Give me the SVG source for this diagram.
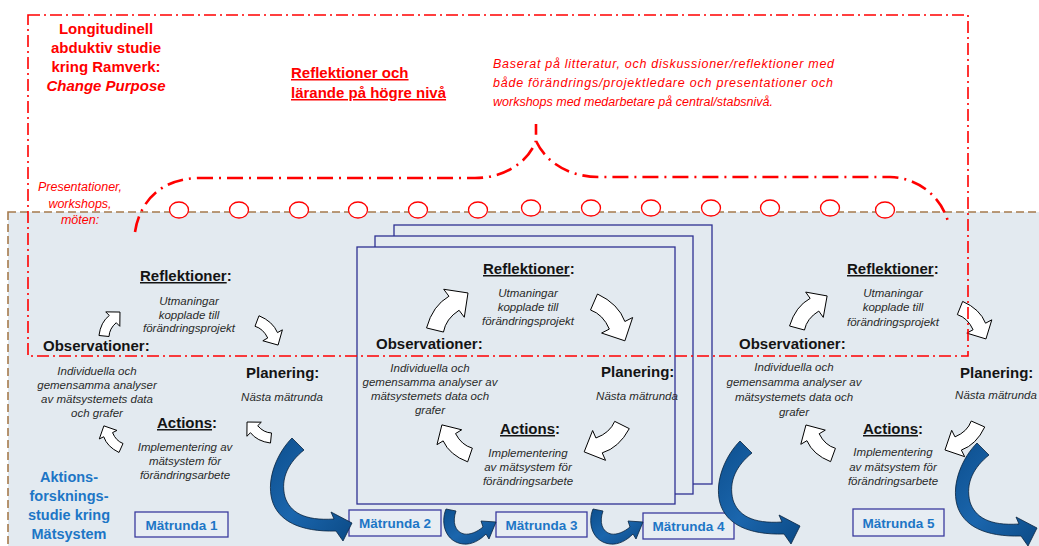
<svg xmlns="http://www.w3.org/2000/svg" xmlns:xlink="http://www.w3.org/1999/xlink" width="1039" height="546" viewBox="0 0 1039 546">
  <style>
    .h { font-family: "Liberation Sans", Arial, sans-serif; font-weight: bold; font-size: 15px; fill: #141414; }
    .u { text-decoration: underline; }
    .i { font-family: "Liberation Sans", Arial, sans-serif; font-style: italic; font-size: 11.5px; fill: #2a2a2a; text-anchor: middle; }
    .rb { font-family: "Liberation Sans", Arial, sans-serif; font-weight: bold; font-size: 15px; fill: #ff0000; }
    .ri { font-family: "Liberation Sans", Arial, sans-serif; font-style: italic; font-size: 12.5px; fill: #ff0000; }
    .bl { font-family: "Liberation Sans", Arial, sans-serif; font-weight: bold; fill: #1d76c6; text-anchor: middle; }
    .round { fill: #e7edf3; stroke: #3b3b9e; stroke-width: 1.3; }
    .card { fill: #e3eaf0; stroke: #2e3192; stroke-width: 1.3; }
    .wa { fill: #ffffff; stroke: #000000; stroke-width: 1; }
    .ba { fill: url(#blueGrad); stroke: #0a2440; stroke-width: 0.8; }
    .dot { fill: #ffffff; stroke: #ff0000; stroke-width: 1.3; }
  </style>
  <defs>
    <linearGradient id="blueGrad" x1="0" y1="0" x2="1" y2="1">
      <stop offset="0" stop-color="#0d4f8e"/>
      <stop offset="0.5" stop-color="#1b66ad"/>
      <stop offset="1" stop-color="#0b4a86"/>
    </linearGradient>
    <!-- white curved block arrow: tail at origin, tip at (40,0) -->
    <path id="wArrow" class="wa" vector-effect="non-scaling-stroke"
          d="M-3.3,-6.2 Q13.5,-14.5 27.8,-9.7 L29.2,-16.6 L40,0 L23.4,10.8 L24.8,3.9 Q12.5,0.5 3.3,6.2 Z"/>
    <!-- large blue curved arrow between rounds -->
    <path id="bArrow" class="ba"
          d="M292,438 C278,452 266,478 272,500 C278,521 300,532 336,531 L343,541 L352,523 L331,512 L334,519 C304,521 290,512 285,497 C280,478 289,462 304,450 Z"/>
    <!-- small blue curved arrow between stacked rounds -->
    <path id="sArrow" class="ba"
          d="M446,509 C440,524 446,542 463,544 C472,545 480,540 486,534 L489,539 L496,522 L481,521 L483,527 C477,532 470,535 464,534 C455,532 452,522 456,511 Z"/>
  </defs>

  <!-- page -->
  <rect x="0" y="0" width="1039" height="546" fill="#ffffff"/>

  <!-- action research area -->
  <g id="action-area">
    <rect x="8" y="212" width="1045" height="345" fill="#e3eaf0" stroke="#a57a4c" stroke-width="1.6" stroke-dasharray="8 4"/>
  </g>

  <!-- stacked cards for rounds 2-4 -->
  <g id="round-stack">
    <rect class="card" x="394" y="225" width="318" height="259"/>
    <rect class="card" x="375" y="236" width="318" height="258"/>
    <rect class="card" x="357" y="247" width="318" height="257"/>
  </g>

  <!-- cycle 1 -->
  <g id="cycle-1">
    <text class="h" x="140" y="281"><tspan class="u">Reflektioner</tspan>:</text>
    <text class="i" y="305"><tspan x="189">Utmaningar</tspan><tspan x="189" y="318.5">kopplade till</tspan><tspan x="189" y="332">förändringsprojekt</tspan></text>
    <text class="h" x="43" y="351">Observationer:</text>
    <text class="i" y="375"><tspan x="97">Individuella och</tspan><tspan x="97" y="389">gemensamma analyser</tspan><tspan x="97" y="403">av mätsystemets data</tspan><tspan x="97" y="417">och grafer</tspan></text>
    <text class="h" x="246" y="378">Planering:</text>
    <text class="i" x="282" y="401">Nästa mätrunda</text>
    <text class="h" x="157" y="428"><tspan class="u">Actions</tspan>:</text>
    <text class="i" y="451"><tspan x="185">Implementering av</tspan><tspan x="185" y="465">mätsystem för</tspan><tspan x="185" y="479">förändringsarbete</tspan></text>
    <use xlink:href="#wArrow" transform="translate(104,336) rotate(-56.3) scale(0.72)"/>
    <use xlink:href="#wArrow" transform="translate(257,321) rotate(48.8) scale(0.8)"/>
    <use xlink:href="#wArrow" transform="translate(271,438) rotate(-146.3) scale(0.72)"/>
    <use xlink:href="#wArrow" transform="translate(121,448) rotate(-127.7) scale(0.7)"/>
  </g>

  <!-- cycle 2-4 -->
  <g id="cycle-2">
    <text class="h" x="483" y="274"><tspan class="u">Reflektioner</tspan>:</text>
    <text class="i" y="297"><tspan x="528">Utmaningar</tspan><tspan x="528" y="311">kopplade till</tspan><tspan x="528" y="325">förändringsprojekt</tspan></text>
    <text class="h" x="376" y="349">Observationer:</text>
    <text class="i" y="372"><tspan x="430">Individuella och</tspan><tspan x="430" y="386">gemensamma analyser av</tspan><tspan x="430" y="400">mätsystemets data och</tspan><tspan x="430" y="414">grafer</tspan></text>
    <text class="h" x="601" y="377">Planering:</text>
    <text class="i" x="637" y="400">Nästa mätrunda</text>
    <text class="h" x="500" y="434"><tspan class="u">Actions</tspan>:</text>
    <text class="i" y="457"><tspan x="528">Implementering</tspan><tspan x="528" y="471">av mätsystem för</tspan><tspan x="528" y="485">förändringsarbete</tspan></text>
    <use xlink:href="#wArrow" transform="translate(435,330) rotate(-48.3) scale(1.24)"/>
    <use xlink:href="#wArrow" transform="translate(594,302) rotate(51.5) scale(1.24)"/>
    <use xlink:href="#wArrow" transform="translate(622,425) rotate(144.6) scale(1.16)"/>
    <use xlink:href="#wArrow" transform="translate(470,455) rotate(-133) scale(1.03)"/>
  </g>

  <!-- cycle 5 -->
  <g id="cycle-5">
    <text class="h" x="847" y="274"><tspan class="u">Reflektioner</tspan>:</text>
    <text class="i" y="297"><tspan x="893">Utmaningar</tspan><tspan x="893" y="311">kopplade till</tspan><tspan x="893" y="326">förändringsprojekt</tspan></text>
    <text class="h" x="739" y="349">Observationer:</text>
    <text class="i" y="371"><tspan x="794">Individuella och</tspan><tspan x="794" y="386">gemensamma analyser av</tspan><tspan x="794" y="401">mätsystemets data och</tspan><tspan x="794" y="416">grafer</tspan></text>
    <text class="h" x="960" y="378">Planering:</text>
    <text class="i" x="996" y="399">Nästa mätrunda</text>
    <text class="h" x="863" y="434"><tspan class="u">Actions</tspan>:</text>
    <text class="i" y="456"><tspan x="893">Implementering</tspan><tspan x="893" y="471">av mätsystem för</tspan><tspan x="893" y="485">förändringsarbete</tspan></text>
    <use xlink:href="#wArrow" transform="translate(797,328) rotate(-46.8) scale(1.1)"/>
    <use xlink:href="#wArrow" transform="translate(960,308) rotate(50) scale(1.01)"/>
    <use xlink:href="#wArrow" transform="translate(978,424) rotate(141.8) scale(1.05)"/>
    <use xlink:href="#wArrow" transform="translate(833,455) rotate(-132) scale(1.01)"/>
  </g>

  <!-- side title of the action research part -->
  <g id="action-title">
    <text class="bl" font-size="14.5"><tspan x="69" y="482">Aktions-</tspan><tspan x="69" y="501">forsknings-</tspan><tspan x="69" y="520">studie kring</tspan><tspan x="69" y="539">Mätsystem</tspan></text>
  </g>

  <!-- measurement rounds -->
  <g id="round-1"><rect class="round" x="135" y="512" width="93" height="25"/><text class="bl" font-size="13.5" x="181.5" y="529.5">Mätrunda 1</text></g>
  <g id="round-2"><rect class="round" x="349" y="510" width="92" height="26"/><text class="bl" font-size="13.5" x="395" y="528">Mätrunda 2</text></g>
  <g id="round-3"><rect class="round" x="496" y="512" width="91" height="25"/><text class="bl" font-size="13.5" x="541.5" y="529.5">Mätrunda 3</text></g>
  <g id="round-4"><rect class="round" x="643" y="513" width="91" height="26"/><text class="bl" font-size="13.5" x="688.5" y="531">Mätrunda 4</text></g>
  <g id="round-5"><rect class="round" x="853" y="509" width="91" height="27"/><text class="bl" font-size="13.5" x="898.5" y="527.5">Mätrunda 5</text></g>

  <!-- connectors between rounds -->
  <g id="connectors">
    <use xlink:href="#bArrow"/>
    <use xlink:href="#sArrow"/>
    <use xlink:href="#sArrow" transform="translate(147,0)"/>
    <use xlink:href="#bArrow" transform="translate(448,3)"/>
    <use xlink:href="#bArrow" transform="translate(685,5)"/>
  </g>

  <!-- meetings brace and touch points -->
  <g id="meetings">
    <path d="M135,232 C139,205 158,178 200,178 L475,178 C505,178 528,162 536,141 L536,124 M536,141 C546,162 568,177 600,177 L890,177 C918,178 942,196 949,225"
          fill="none" stroke="#ff0000" stroke-width="2.6" stroke-dasharray="16 6 2 6"/>
    <ellipse class="dot" cx="179" cy="210" rx="9.5" ry="8"/>
    <ellipse class="dot" cx="239" cy="210" rx="9.5" ry="8"/>
    <ellipse class="dot" cx="299" cy="210" rx="9.5" ry="8"/>
    <ellipse class="dot" cx="358" cy="210" rx="9.5" ry="8"/>
    <ellipse class="dot" cx="418" cy="210" rx="9.5" ry="8"/>
    <ellipse class="dot" cx="478" cy="210" rx="9.5" ry="8"/>
    <ellipse class="dot" cx="531" cy="208" rx="9.5" ry="8"/>
    <ellipse class="dot" cx="591" cy="208" rx="9.5" ry="8"/>
    <ellipse class="dot" cx="651" cy="208" rx="9.5" ry="8"/>
    <ellipse class="dot" cx="711" cy="208" rx="9.5" ry="8"/>
    <ellipse class="dot" cx="770" cy="208" rx="9.5" ry="8"/>
    <ellipse class="dot" cx="830" cy="208" rx="9.5" ry="8"/>
    <ellipse class="dot" cx="885" cy="210" rx="9.5" ry="8"/>
    <text class="ri" font-size="13.5" text-anchor="middle"><tspan x="80" y="191">Presentationer,</tspan><tspan x="80" y="207.5">workshops,</tspan><tspan x="80" y="224">möten:</tspan></text>
  </g>

  <!-- framework study -->
  <g id="framework">
    <rect x="28" y="15" width="940" height="341" fill="none" stroke="#ff0000" stroke-width="1.6" stroke-dasharray="12 4 2 4"/>
    <text class="rb" text-anchor="middle"><tspan x="106" y="34">Longitudinell</tspan><tspan x="106" y="53">abduktiv studie</tspan><tspan x="106" y="72">kring Ramverk:</tspan><tspan x="106" y="91" font-style="italic">Change Purpose</tspan></text>
    <text class="rb u"><tspan x="291" y="78">Reflektioner och</tspan><tspan x="291" y="98">lärande på högre nivå</tspan></text>
    <text class="ri"><tspan x="493" y="68" textLength="341" lengthAdjust="spacing">Baserat på litteratur, och diskussioner/reflektioner med</tspan><tspan x="493" y="87" textLength="340" lengthAdjust="spacing">både förändrings/projektledare och presentationer och</tspan><tspan x="493" y="105.5">workshops med medarbetare på central/stabsnivå.</tspan></text>
  </g>
</svg>
